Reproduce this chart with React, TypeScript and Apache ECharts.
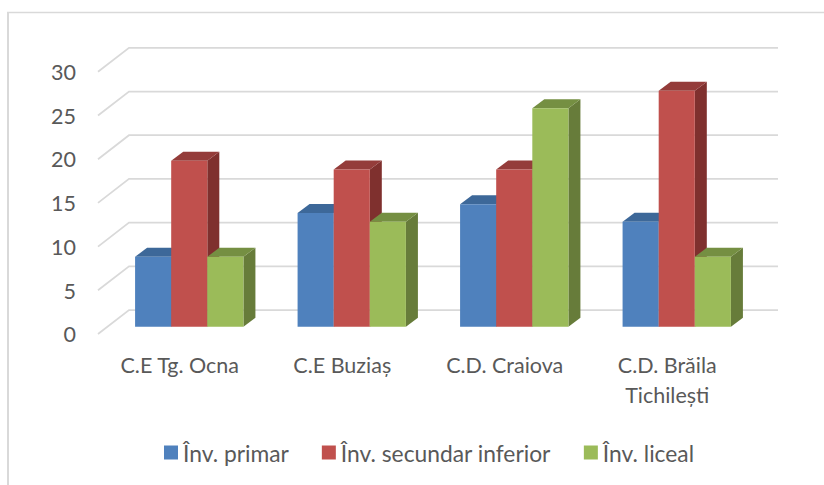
import React, { useEffect, useRef } from "react";
import * as echarts from "echarts";

const categories = ["C.E Tg. Ocna", "C.E Buziaș", "C.D. Craiova", "C.D. Brăila\nTichilești"];
const primar = [8, 13, 14, 12];
const secundar = [19, 18, 18, 27];
const liceal = [8, 12, 25, 8];
const ticks = [0, 5, 10, 15, 20, 25, 30];

const FONT = "Lato, sans-serif";
const TEXT = "#595959";
const DX = 12;
const DY = -9;

function bar3d(index: number, front: string, top: string, side: string) {
  return (params: any, api: any) => {
    const cat = api.value(0);
    const val = api.value(1);
    const band = api.size([1, 0])[0];
    const w = band / 4.5;
    const c = api.coord([cat, val]);
    const b = api.coord([cat, 0]);
    const x0 = c[0] - 1.5 * w + index * w;
    const x1 = x0 + w;
    const yt = c[1];
    const yb = b[1];
    return {
      type: "group",
      children: [
        { type: "polygon", shape: { points: [[x1, yt], [x1 + DX, yt + DY], [x1 + DX, yb + DY], [x1, yb]] }, style: { fill: side } },
        { type: "polygon", shape: { points: [[x0, yt], [x0 + DX, yt + DY], [x1 + DX, yt + DY], [x1, yt]] }, style: { fill: top } },
        { type: "rect", shape: { x: x0, y: yt, width: w, height: yb - yt }, style: { fill: front } },
      ],
    };
  };
}

function wallLine(params: any, api: any) {
  const y = api.coord([0, api.value(1)])[1];
  const cs = params.coordSys;
  const left = cs.x;
  const right = cs.x + cs.width;
  return {
    type: "polyline",
    shape: { points: [[left - 10, y + 7.3], [left + 21, y - 16.7], [right + 20, y - 16.7]] },
    style: { stroke: "#D9D9D9", lineWidth: 1.75, fill: "none" },
  };
}

export default function App() {
  const ref = useRef<HTMLDivElement>(null);
  useEffect(() => {
    const chart = echarts.init(ref.current!, undefined, { renderer: "svg" });
    const makeSeries = (name: string, values: number[], idx: number, front: string, top: string, side: string) => ({
      type: "custom",
      name,
      coordinateSystem: "cartesian2d",
      clip: false,
      z: 3,
      itemStyle: { color: front },
      encode: { x: 0, y: 1 },
      data: values.map((v, i) => [i, v]),
      renderItem: bar3d(idx, front, top, side),
    });
    chart.setOption({
      animation: false,
      backgroundColor: "#FFFFFF",
      graphic: [
        { type: "line", shape: { x1: 8, y1: 12, x2: 8, y2: 485 }, style: { stroke: "#D9D9D9", lineWidth: 2 } },
        { type: "line", shape: { x1: 7, y1: 12.5, x2: 824, y2: 12.5 }, style: { stroke: "#D9D9D9", lineWidth: 1.5 } },
      ],
      grid: { left: 108, width: 650, top: 64.5, height: 262.2 },
      legend: {
        left: 159,
        top: 436,
        icon: "rect",
        itemWidth: 14,
        itemHeight: 14,
        itemGap: 33,
        data: ["Înv. primar", "Înv. secundar inferior", "Înv. liceal"],
        textStyle: { color: TEXT, fontFamily: FONT, fontSize: 22.8 },
      },
      xAxis: {
        type: "category",
        data: categories,
        axisLine: { show: false },
        axisTick: { show: false },
        axisLabel: { color: TEXT, fontFamily: FONT, fontSize: 21.5, lineHeight: 30, margin: 23, interval: 0, padding: [0, 19, 0, 0] },
      },
      yAxis: {
        type: "value",
        min: 0,
        max: 30,
        interval: 5,
        axisLine: { show: false },
        axisTick: { show: false },
        splitLine: { show: false },
        axisLabel: { color: TEXT, fontFamily: FONT, fontSize: 21.5, margin: 32, verticalAlign: "top", lineHeight: 15 },
      },
      series: [
        {
          type: "custom",
          silent: true,
          clip: false,
          z: 1,
          coordinateSystem: "cartesian2d",
          encode: { x: 0, y: 1 },
          data: ticks.map((t) => [0, t]),
          renderItem: wallLine,
        },
        makeSeries("Înv. primar", primar, 0, "#4F81BD", "#3D6899", "#3A5F8C"),
        makeSeries("Înv. secundar inferior", secundar, 1, "#C0504D", "#943C3A", "#7F302E"),
        makeSeries("Înv. liceal", liceal, 2, "#9BBB59", "#758F42", "#677C3A"),
      ],
    });
    return () => chart.dispose();
  }, []);
  return <div ref={ref} style={{ position: "fixed", left: 0, top: 0, width: 824, height: 485 }} />;
}
